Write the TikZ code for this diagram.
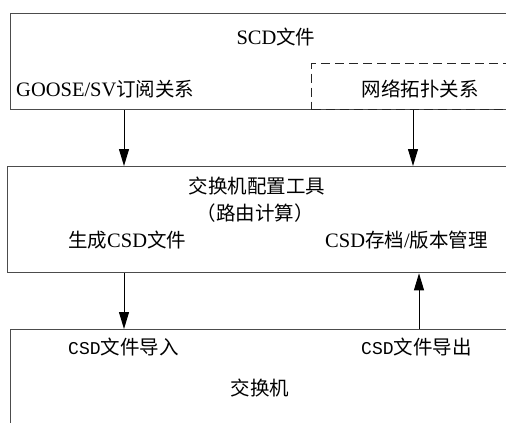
\documentclass[tikz,border=0pt]{standalone}
\usepackage{fontspec}
\setmainfont{Liberation Serif}
\newfontfamily\cjkfont{Noto Sans CJK SC}
\newfontfamily\monofont{Liberation Mono}
\usetikzlibrary{arrows.meta}
\newcommand\zh[1]{{\cjkfont\fontsize{19.5}{22}\selectfont #1}}
\newcommand\la[1]{{\fontsize{20.5}{24}\selectfont #1}}
\newcommand\mo[1]{{\monofont\fontsize{18}{20}\selectfont #1}}
\begin{document}
\begin{tikzpicture}[x=1pt,y=-1pt,
  box/.style={draw=black!70,line width=1.3pt,anchor=north west,inner sep=0pt},
  dbox/.style={draw=black!85,line width=1.3pt,dash pattern=on 9pt off 5pt,anchor=north west,inner sep=0pt},
  lbl/.style={inner sep=0pt},
  arr/.style={line width=1pt,-{Triangle[length=17pt,width=10pt]}}]
\useasboundingbox (0,0) rectangle (506,423);
\clip (0,0) rectangle (506,423);
\node[box,minimum width=510pt,minimum height=96pt] (scd) at (10,13) {};
\node[dbox,minimum width=210pt,minimum height=46pt] (topo) at (311,63) {};
\node[box,minimum width=510pt,minimum height=106pt] (cfg) at (7,166) {};
\node[box,minimum width=510pt,minimum height=110pt] (sw) at (10,329) {};
% labels
\node[lbl] (t1) at (276,37) {\la{SCD}\zh{文件}};
\node[lbl,anchor=west] (t2) at (16,89) {\la{GOOSE/SV}\zh{订阅关系}};
\node[lbl] (t3) at (420,89) {\zh{网络拓扑关系}};
\node[lbl] (t4) at (257,186) {\zh{交换机配置工具}};
\node[lbl] (t5) at (255,213) {\zh{（路由计算）}};
\node[lbl,anchor=west] (t6) at (68,240) {\zh{生成}\la{CSD}\zh{文件}};
\node[lbl,anchor=west] (t7) at (325,240) {\la{CSD}\zh{存档}\la{/}\zh{版本管理}};
\node[lbl,anchor=west] (t8) at (68,347) {\mo{CSD}\zh{文件导入}};
\node[lbl,anchor=west] (t9) at (361,347) {\mo{CSD}\zh{文件导出}};
\node[lbl] (t10) at (260,388) {\zh{交换机}};
% connectors
\coordinate (xa) at (124,0);
\coordinate (xb) at (413,0);
\coordinate (xc) at (419,0);
\draw[arr] (xa |- scd.south) -- (xa |- cfg.north);
\draw[arr] (xb |- topo.south) -- (xb |- cfg.north);
\draw[arr] (xa |- cfg.south) -- (xa |- sw.north);
\draw[arr] (xc |- sw.north) -- (xc |- cfg.south);
\end{tikzpicture}
\end{document}
